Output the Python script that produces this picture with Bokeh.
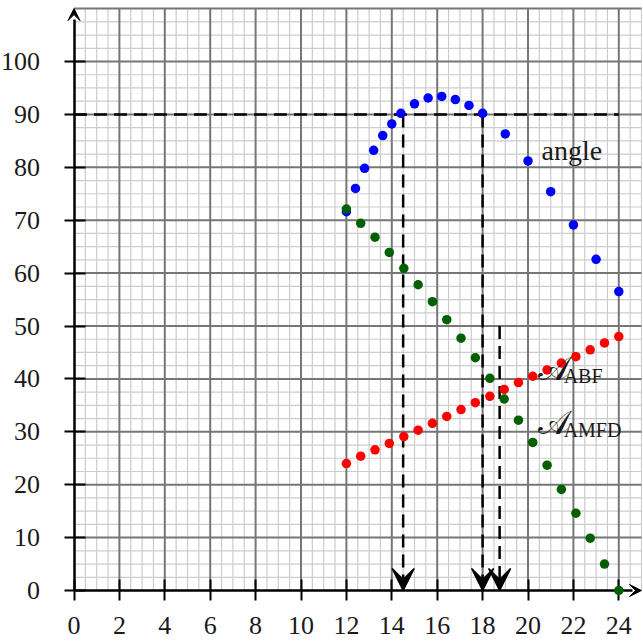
import numpy as np
from bokeh.plotting import figure
from bokeh.models import (Range1d, LinearAxis, FixedTicker, ColumnDataSource,
                          Arrow, VeeHead)
from bokeh.core.properties import value
from bokeh.embed import file_html
from bokeh.resources import INLINE

# ---------------- data ----------------
angle_x = [12, 12.4, 12.8, 13.2, 13.6, 14, 14.4, 15, 15.6, 16.2, 16.8, 17.4,
           18, 19, 20, 21, 22, 23, 24]
angle_y = [71.6, 76.0, 79.8, 83.2, 86.0, 88.2, 90.2, 92.0, 93.1, 93.4, 92.8,
           91.7, 90.2, 86.3, 81.2, 75.4, 69.1, 62.6, 56.5]

area_x = [12.00, 12.63, 13.26, 13.89, 14.53, 15.16, 15.79, 16.42, 17.05, 17.68,
          18.32, 18.95, 19.58, 20.21, 20.84, 21.47, 22.11, 22.74, 23.37, 24.00]
abf_y = [24.0, 25.4, 26.6, 27.8, 29.1, 30.3, 31.6, 32.9, 34.2, 35.5,
         36.7, 38.0, 39.3, 40.5, 41.7, 43.0, 44.2, 45.5, 46.8, 48.0]
amfd_y = [72.1, 69.4, 66.8, 63.9, 60.9, 57.8, 54.6, 51.2, 47.7, 44.0,
          40.1, 36.2, 32.2, 28.0, 23.7, 19.1, 14.6, 9.9, 5.0, 0.0]

x_ticks = [0, 2, 4, 6, 8, 10, 12, 14, 16, 18, 20, 22, 24]
y_ticks = [0, 10, 20, 30, 40, 50, 60, 70, 80, 90, 100]

ref_angle = 90
ref_line_end = 24
drop_x = [14.5, 18.0, 18.75]
drop_top = [90, 90, 50]
drop_bottom = [0, 0, 0]

label_angle = dict(x=[20.6], y=[81.9], text=["angle"])
label_script = dict(x=[20.68, 20.65], y=[39.9, 29.7], text=["𝒜", "𝒜"])
label_sub = dict(x=[21.57, 21.57], y=[39.3, 29.0], text=["ABF", "AMFD"])

X_MAX, Y_MAX = 25, 110

# ---------------- layout ----------------
W, H = 642, 640
x0px, y0px = 73.5, 590.0
sx, sy = 22.7, 5.29

p = figure(width=W, height=H, output_backend="svg", toolbar_location=None,
           x_range=Range1d(-x0px / sx, (W - x0px) / sx),
           y_range=Range1d(-(H - y0px) / sy, y0px / sy),
           x_axis_location=None, y_axis_location=None, min_border=0)
p.grid.grid_line_color = None
p.outline_line_color = None
p.background_fill_color = "white"
p.border_fill_color = "white"

# ---------------- graph-paper grid ----------------
gx = np.arange(0, X_MAX + 0.001, 0.5)
gy = np.arange(0, Y_MAX + 0.001, 2.5)
minor_x = gx[(gx % 2 != 0)]
major_x = gx[(gx % 2 == 0) & (gx > 0)]
minor_y = gy[(gy % 10 != 0)]
major_y = gy[(gy % 10 == 0) & (gy > 0)]

minor_col, major_col = "#cccccc", "#767676"
p.segment(x0=minor_x, y0=0, x1=minor_x, y1=Y_MAX, line_color=minor_col,
          line_width=1.2, level="image")
p.segment(x0=0, y0=minor_y, x1=X_MAX, y1=minor_y, line_color=minor_col,
          line_width=1.2, level="image")
p.segment(x0=major_x, y0=0, x1=major_x, y1=Y_MAX, line_color=major_col,
          line_width=2, level="image")
p.segment(x0=0, y0=major_y, x1=X_MAX, y1=major_y, line_color=major_col,
          line_width=2, level="image")

# ---------------- axes ----------------
font = "Liberation Serif"
xaxis = LinearAxis(fixed_location=0, bounds=(0, 24.6),
                   ticker=FixedTicker(ticks=x_ticks, minor_ticks=[]))
yaxis = LinearAxis(fixed_location=0, bounds=(0, 108),
                   ticker=FixedTicker(ticks=y_ticks, minor_ticks=[]))
for ax in (xaxis, yaxis):
    ax.axis_line_width = 2.5
    ax.axis_line_color = "black"
    ax.major_tick_in = 11
    ax.major_tick_out = 10
    ax.major_tick_line_width = 2
    ax.major_tick_line_color = "black"
    ax.minor_tick_line_color = None
    ax.major_label_text_color = None
    ax.level = "underlay"
p.add_layout(xaxis, "below")
p.add_layout(yaxis, "left")

# tick labels, placed at the tick values through the plot's scales
p.text(x=x_ticks, y=0, text=[str(t) for t in x_ticks], y_offset=35,
       text_font=value(font), text_font_size="26px", text_color="#1a1a1a",
       text_align="center", text_baseline="alphabetic")
p.text(x=0, y=y_ticks, text=[str(t) for t in y_ticks], x_offset=-34, y_offset=0,
       text_font=value(font), text_font_size="26px", text_color="#1a1a1a",
       text_align="right", text_baseline="alphabetic")

p.add_layout(Arrow(x_start=0, y_start=100, x_end=0, y_end=Y_MAX, line_color=None,
                   end=VeeHead(size=12, fill_color="black", line_color="black"),
                   level="underlay"))
p.add_layout(Arrow(x_start=23, y_start=0, x_end=X_MAX, y_end=0, line_color=None,
                   end=VeeHead(size=12, fill_color="black", line_color="black"),
                   level="underlay"))

# ---------------- dashed guides ----------------
p.segment(x0=[0], y0=[ref_angle], x1=[ref_line_end], y1=[ref_angle],
          line_color="black", line_width=2.5, line_dash="13 7", level="underlay")
drops = ColumnDataSource(dict(x=drop_x, top=drop_top, bottom=drop_bottom))
p.add_layout(Arrow(x_start="x", y_start="top", x_end="x", y_end="bottom",
                   source=drops, line_color="black", line_width=2.5,
                   line_dash="13 7", level="underlay",
                   end=VeeHead(size=22, fill_color="black", line_color="black",
                               line_width=1.5)))

# ---------------- data points ----------------
p.scatter(angle_x, angle_y, size=9.5, fill_color="#0000ff", line_color=None)
p.scatter(area_x, abf_y, size=9.5, fill_color="#ff0000", line_color=None)
p.scatter(area_x, amfd_y, size=9.5, fill_color="#006000", line_color=None)

# ---------------- labels ----------------
p.text(x="x", y="y", text="text", source=ColumnDataSource(label_angle),
       text_font=value(font), text_font_size="28px", text_color="#1a1a1a",
       text_align="left", text_baseline="alphabetic", y_offset=-7)
p.text(x="x", y="y", text="text", source=ColumnDataSource(label_script),
       text_font=value("DejaVu Serif"), text_font_size="33px", text_color="#1a1a1a",
       text_align="left", text_baseline="alphabetic", x_offset=-5, y_offset=-11)
p.text(x="x", y="y", text="text", source=ColumnDataSource(label_sub),
       text_font=value(font), text_font_size="20px", text_color="#1a1a1a",
       text_align="left", text_baseline="alphabetic", y_offset=-7)

open("out.html", "w").write(file_html(p, INLINE))
